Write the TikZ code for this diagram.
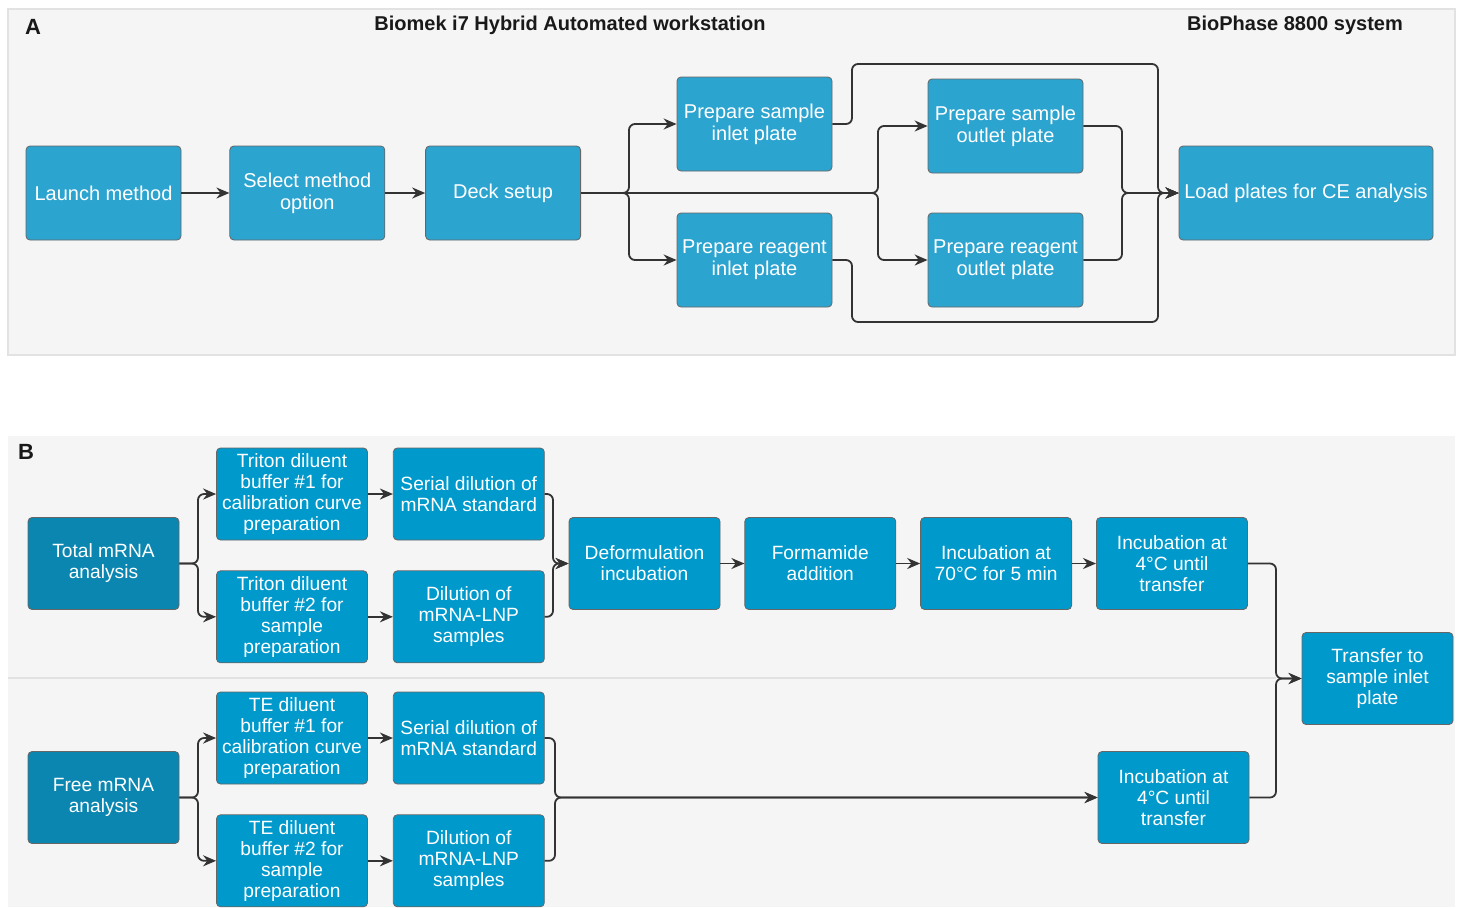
\documentclass[tikz,border=0pt]{standalone}
\usepackage{fontspec}
\setmainfont{Liberation Sans}
\usetikzlibrary{shapes,arrows.meta,positioning,calc}

\definecolor{boxA}{HTML}{2CA4D0}
\definecolor{boxB}{HTML}{0099CC}
\definecolor{boxC}{HTML}{0A86B0}
\definecolor{panelbg}{HTML}{F5F5F5}
\definecolor{panelrule}{HTML}{E2E2E2}
\definecolor{wire}{HTML}{333333}

\begin{document}
\begin{tikzpicture}[
    x=0.5pt, y=-0.5pt,
    box/.style={rectangle, draw=black!60, rounded corners=2pt, fill=boxA, text=white,
        align=center, minimum width=77.5pt, minimum height=47pt, inner sep=1pt,
        font=\fontsize{10}{11}\selectfont},
    boxb/.style={box, fill=boxB, minimum width=75.5pt, minimum height=46pt,
        font=\fontsize{9.6}{10.5}\selectfont},
    boxd/.style={boxb, fill=boxC},
    title/.style={font=\bfseries\fontsize{10}{11}\selectfont, text=black!90},
    panel/.style={font=\bfseries\fontsize{11}{12}\selectfont, text=black!90},
    arrow/.style={-{Stealth[length=6.5pt,width=5.5pt]}, draw=wire, line width=0.9pt, rounded corners=3pt}
]
\useasboundingbox (0,0) rectangle (1460,907);

% backgrounds
\fill[panelbg, draw=panelrule, line width=0.7pt] (8,9) rectangle (1455,355);
\fill[panelbg] (8,436) rectangle (1455,907);
\draw[panelrule, line width=1pt] (8,678) -- (1276,678);

\node[panel] (labA) at (33,27) {A};
\node[panel] (labB) at (26,452) {B};
\node[title] (biomek) at (570,25) {Biomek i7 Hybrid Automated workstation};
\node[title] (biophase) at (1295,25) {BioPhase 8800 system};

% panel A
\node[box] (launch) at (103.5,193) {Launch method};
\node[box, right=24pt of launch] (select) {Select method\\option};
\node[box, right=20pt of select] (deck) {Deck setup};
\node[box] (psi) at (754.5,124) {Prepare sample\\inlet plate};
\node[box] (pri) at (754.5,260) {Prepare reagent\\inlet plate};
\node[box] (pso) at (1005.5,126) {Prepare sample\\outlet plate};
\node[box] (pro) at (1005.5,260) {Prepare reagent\\outlet plate};
\node[box, minimum width=127pt] (load) at (1306,193) {Load plates for CE analysis};

\coordinate (jA) at (629,193);
\coordinate (jB) at (878,193);
\coordinate (jC) at (1158,193);
\coordinate (jD) at (1122,193);
\coordinate (upL) at (852,64);
\coordinate (loL) at (852,322);

\draw[arrow] (launch) -- (select);
\draw[arrow] (select) -- (deck);
\draw[arrow] (deck.east) -- (jA) |- (psi.west);
\draw[arrow] (deck.east) -- (jA) |- (pri.west);
\draw[arrow] (deck.east) -- (jB) |- (pso.west);
\draw[arrow] (deck.east) -- (jB) |- (pro.west);
\draw[arrow] (psi.east) -| (upL) -| (jC) -- (load.west);
\draw[arrow] (pri.east) -| (loL) -| (jC) -- (load.west);
\draw[arrow] (pso.east) -| (jD) -- (load.west);
\draw[arrow] (pro.east) -| (jD) -- (load.west);

% panel B, total mRNA
\node[boxd] (total) at (103.5,563.5) {Total mRNA\\analysis};
\node[boxb] (tri1) at (292,494) {Triton diluent\\buffer \#1 for\\calibration curve\\preparation};
\node[boxb, below=15pt of tri1] (tri2) {Triton diluent\\buffer \#2 for\\sample\\preparation};
\node[boxb, right=12.5pt of tri1] (ser1) {Serial dilution of\\mRNA standard};
\node[boxb, right=12.5pt of tri2] (dil1) {Dilution of\\mRNA-LNP\\samples};
\node[boxb] (deform) at (644.5,563.5) {Deformulation\\incubation};
\node[boxb, right=12pt of deform] (forma) {Formamide\\addition};
\node[boxb, right=12pt of forma] (inc70) {Incubation at\\70°C for 5 min};
\node[boxb, right=12pt of inc70] (incA) {Incubation at\\4°C until\\transfer};
\node[boxb] (transfer) at (1377.5,678.5) {Transfer to\\sample inlet\\plate};

% panel B, free mRNA
\node[boxd] (free) at (103.5,797.5) {Free mRNA\\analysis};
\node[boxb] (te1) at (292,738) {TE diluent\\buffer \#1 for\\calibration curve\\preparation};
\node[boxb, below=15pt of te1] (te2) {TE diluent\\buffer \#2 for\\sample\\preparation};
\node[boxb, right=12.5pt of te1] (ser2) {Serial dilution of\\mRNA standard};
\node[boxb, right=12.5pt of te2] (dil2) {Dilution of\\mRNA-LNP\\samples};
\node[boxb] (incB) at (1173.5,797.5) {Incubation at\\4°C until\\transfer};

\coordinate (jT) at (198,563.5);
\coordinate (jS) at (553,563.5);
\coordinate (jF) at (198,797.5);
\coordinate (jG) at (555,797.5);
\coordinate (jI) at (1276,678.5);

\draw[arrow] (total.east) -- (jT) |- (tri1.west);
\draw[arrow] (total.east) -- (jT) |- (tri2.west);
\draw[arrow] (tri1) -- (ser1);
\draw[arrow] (tri2) -- (dil1);
\draw[arrow] (ser1.east) -| (jS) -- (deform.west);
\draw[arrow] (dil1.east) -| (jS) -- (deform.west);
\draw[arrow] (deform) -- (forma);
\draw[arrow] (forma) -- (inc70);
\draw[arrow] (inc70) -- (incA);
\draw[arrow] (incA.east) -| (jI) -- (transfer.west);

\draw[arrow] (free.east) -- (jF) |- (te1.west);
\draw[arrow] (free.east) -- (jF) |- (te2.west);
\draw[arrow] (te1) -- (ser2);
\draw[arrow] (te2) -- (dil2);
\draw[arrow] (ser2.east) -| (jG) -- (incB.west);
\draw[arrow] (dil2.east) -| (jG) -- (incB.west);
\draw[arrow] (incB.east) -| (jI) -- (transfer.west);

\end{tikzpicture}
\end{document}
